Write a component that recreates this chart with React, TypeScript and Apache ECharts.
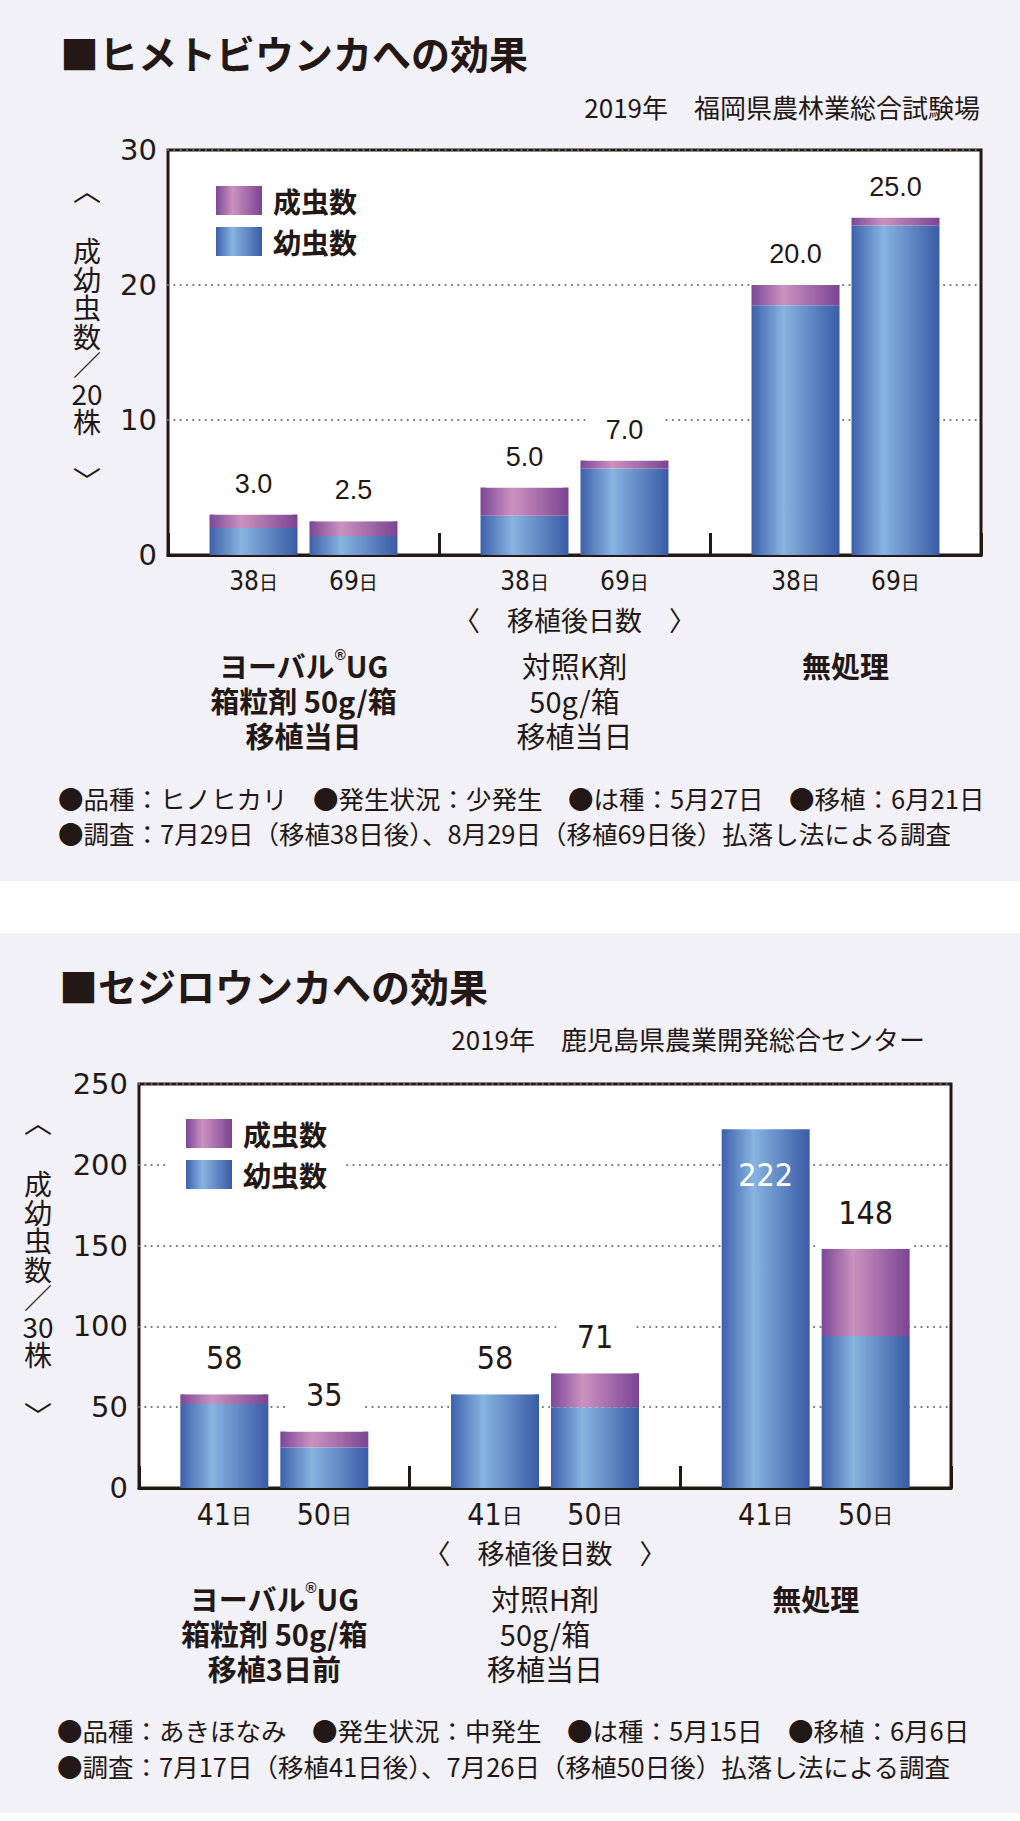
import React, { useEffect, useRef } from 'react';
import * as echarts from 'echarts';

// ---------- shared look ----------
const INK = '#231815';
const PANEL = '#f2f1f7';
const CJK = '"Noto Sans CJK JP", "Noto Sans CJK SC", sans-serif';
const TICKFONT = '"DejaVu Sans", sans-serif';
const ARIAL = '"Liberation Sans", Arial, sans-serif';
const NARROW = '"Liberation Sans Narrow", "Arial Narrow", "DejaVu Sans Condensed", "Liberation Sans", sans-serif';
const seriesNames = ['成虫数', '幼虫数'];
const xName = '〈　移植後日数　〉';

// ---------- chart 1: ヒメトビウンカ ----------
const title1 = '■ヒメトビウンカへの効果';
const source1 = '2019年　福岡県農林業総合試験場';
const yName1 = ['成', '幼', '虫', '数', '／', '20', '株'];
const groups1 = ['ヨーバル®UG\n箱粒剤 50g/箱\n移植当日', '対照K剤\n50g/箱\n移植当日', '無処理'];
const groupBold1 = [true, false, true];
const days1 = ['38', '69'];
const yMax1 = 30;
const yStep1 = 10;
const larvaEarly1 = [2.0, 2.9, 18.5];
const adultEarly1 = [1.0, 2.1, 1.5];
const larvaLate1 = [1.4, 6.4, 24.4];
const adultLate1 = [1.1, 0.6, 0.6];
const notes1 = [
  '●品種：ヒノヒカリ　●発生状況：少発生　●は種：5月27日　●移植：6月21日',
  '●調査：7月29日（移植38日後）、8月29日（移植69日後）払落し法による調査',
];

// ---------- chart 2: セジロウンカ ----------
const title2 = '■セジロウンカへの効果';
const source2 = '2019年　鹿児島県農業開発総合センター';
const yName2 = ['成', '幼', '虫', '数', '／', '30', '株'];
const groups2 = ['ヨーバル®UG\n箱粒剤 50g/箱\n移植3日前', '対照H剤\n50g/箱\n移植当日', '無処理'];
const groupBold2 = [true, false, true];
const days2 = ['41', '50'];
const yMax2 = 250;
const yStep2 = 50;
const larvaEarly2 = [52, 58, 222];
const adultEarly2 = [6, 0, 0];
const larvaLate2 = [25, 50, 94];
const adultLate2 = [10, 21, 54];
const notes2 = [
  '●品種：あきほなみ　●発生状況：中発生　●は種：5月15日　●移植：6月6日',
  '●調査：7月17日（移植41日後）、7月26日（移植50日後）払落し法による調査',
];

const blueGrad = () =>
  new echarts.graphic.LinearGradient(0, 0, 1, 0, [
    { offset: 0, color: '#3d60ab' },
    { offset: 0.36, color: '#87b4e0' },
    { offset: 1, color: '#3a5ba6' },
  ]);
const purpleGrad = () =>
  new echarts.graphic.LinearGradient(0, 0, 1, 0, [
    { offset: 0, color: '#7b4797' },
    { offset: 0.36, color: '#cb92bf' },
    { offset: 1, color: '#7a4493' },
  ]);

function groupLabel(text: string, bold: boolean) {
  const t = bold ? 'b' : 'r';
  const sup = bold ? 'sb' : 'sr';
  return text
    .split('\n')
    .map((line) =>
      line
        .split('®')
        .map((s) => (s ? `{${t}|${s}}` : ''))
        .join(`{${sup}|®}`)
    )
    .join('\n');
}

interface Panel {
  idx: number;
  grid: { left: number; top: number; width: number; height: number };
  yMax: number;
  yStep: number;
  groups: string[];
  groupBold: boolean[];
  days: string[];
  larvaEarly: number[];
  adultEarly: number[];
  larvaLate: number[];
  adultLate: number[];
  decimals: number;
  valFont: string;
  valSize: number;
  valLH: number;
  valPadBottom: number;
  daySize: number;
  dayLH: number;
  dayDist: number;
  hiSize: number;
  legendPos: { left: number; top: number };
  whiteInsideEarly: boolean[];
}

function buildPanel(p: Panel) {
  const totalsE = p.larvaEarly.map((v, i) => (v + p.adultEarly[i]).toFixed(p.decimals));
  const totalsL = p.larvaLate.map((v, i) => (v + p.adultLate[i]).toFixed(p.decimals));
  const stackE = `s${p.idx}e`;
  const stackL = `s${p.idx}l`;

  const dayLabel = (day: string) => ({
    show: true,
    position: 'bottom',
    distance: p.dayDist,
    formatter: () => `{n|${day}}{s|日}`,
    rich: {
      n: { fontSize: p.daySize, fontFamily: NARROW, color: INK, lineHeight: p.dayLH },
      s: { fontSize: p.hiSize, fontFamily: CJK, color: INK, lineHeight: p.dayLH },
    },
  });
  const totalLabel = (totals: string[]) => ({
    show: true,
    position: 'top',
    distance: 0,
    formatter: (q: any) => totals[q.dataIndex],
    fontSize: p.valSize,
    fontFamily: p.valFont,
    color: INK,
    lineHeight: p.valLH,
    backgroundColor: '#ffffff',
    padding: [2, 20, p.valPadBottom, 20],
  });
  const adultData = (vals: number[], inside: boolean[]) =>
    vals.map((v, i) =>
      inside[i]
        ? {
            value: v,
            label: {
              position: 'insideTop',
              distance: 30,
              color: '#ffffff',
              backgroundColor: 'transparent',
              padding: 0,
            },
          }
        : v
    );

  const common = {
    type: 'bar',
    xAxisIndex: p.idx,
    yAxisIndex: p.idx,
    barWidth: 88,
    barGap: '13.6%',
  };
  const series = [
    { ...common, name: seriesNames[1], stack: stackE, data: p.larvaEarly, itemStyle: { color: blueGrad() }, label: dayLabel(p.days[0]) },
    { ...common, name: seriesNames[0], stack: stackE, data: adultData(p.adultEarly, p.whiteInsideEarly), itemStyle: { color: purpleGrad() }, label: totalLabel(totalsE) },
    { ...common, name: seriesNames[1], stack: stackL, data: p.larvaLate, itemStyle: { color: blueGrad() }, label: dayLabel(p.days[1]) },
    { ...common, name: seriesNames[0], stack: stackL, data: p.adultLate, itemStyle: { color: purpleGrad() }, label: totalLabel(totalsL) },
  ];

  const grid = {
    ...p.grid,
    show: true,
    backgroundColor: '#ffffff',
    borderColor: INK,
    borderWidth: 3,
    containLabel: false,
  };

  const xAxis = {
    type: 'category',
    gridIndex: p.idx,
    data: p.groups,
    axisLine: { show: true, lineStyle: { color: INK, width: 3 } },
    axisTick: { show: true, inside: true, length: 22, lineStyle: { color: INK, width: 3 } },
    axisLabel: {
      interval: 0,
      margin: 92,
      formatter: (v: string, i: number) => groupLabel(v, p.groupBold[i]),
      rich: {
        b: { fontSize: 29, fontWeight: 'bold', fontFamily: CJK, color: INK, lineHeight: 35 },
        r: { fontSize: 29, fontWeight: 'normal', fontFamily: CJK, color: INK, lineHeight: 35 },
        sb: { fontSize: 15, fontWeight: 'bold', fontFamily: ARIAL, color: INK, lineHeight: 16, verticalAlign: 'top' },
        sr: { fontSize: 15, fontWeight: 'normal', fontFamily: ARIAL, color: INK, lineHeight: 16, verticalAlign: 'top' },
      },
    },
    name: xName,
    nameLocation: 'middle',
    nameGap: 51,
    nameMoveOverlap: false,
    nameTextStyle: { fontSize: 27, fontFamily: CJK, color: INK },
  };

  const yAxis = {
    type: 'value',
    gridIndex: p.idx,
    min: 0,
    max: p.yMax,
    interval: p.yStep,
    axisLine: { show: false },
    axisTick: { show: false },
    axisLabel: { fontSize: 29, fontFamily: TICKFONT, color: INK, margin: 11 },
    splitLine: {
      show: true,
      lineStyle: { color: '#707070', width: 2.2, type: [0.01, 6.3], cap: 'round' },
    },
  };

  const legend = {
    data: [seriesNames[0], seriesNames[1]],
    orient: 'vertical',
    left: p.legendPos.left,
    top: p.legendPos.top,
    icon: 'rect',
    itemWidth: 46,
    itemHeight: 29,
    itemGap: 12,
    padding: [10, 18],
    backgroundColor: '#ffffff',
    selectedMode: false,
    textStyle: { fontSize: 28, fontWeight: 'bold', fontFamily: CJK, color: INK, lineHeight: 29, padding: [0, 0, 0, 6] },
  };

  return { series, grid, xAxis, yAxis, legend };
}

function txt(text: string, x: number, y: number, size: number, opts: any = {}) {
  const align = opts.align || 'left';
  const valign = opts.valign || 'middle';
  return {
    type: 'text',
    x,
    y,
    silent: true,
    style: {
      text,
      fill: INK,
      fontSize: size,
      fontFamily: opts.family || CJK,
      fontWeight: opts.weight || 'normal',
      lineHeight: opts.lineHeight,
      align,
      verticalAlign: valign,
      textAlign: align,
      textVerticalAlign: valign,
    },
  };
}

function buildOption() {
  const p1 = buildPanel({
    idx: 0,
    grid: { left: 168, top: 150, width: 813, height: 405 },
    yMax: yMax1,
    yStep: yStep1,
    groups: groups1,
    groupBold: groupBold1,
    days: days1,
    larvaEarly: larvaEarly1,
    adultEarly: adultEarly1,
    larvaLate: larvaLate1,
    adultLate: adultLate1,
    decimals: 1,
    valFont: ARIAL,
    valSize: 27,
    valLH: 28,
    valPadBottom: 17,
    daySize: 26,
    dayLH: 26,
    dayDist: 13,
    hiSize: 19,
    legendPos: { left: 198, top: 176 },
    whiteInsideEarly: [false, false, false],
  });
  const p2 = buildPanel({
    idx: 1,
    grid: { left: 139, top: 1084, width: 812, height: 404 },
    yMax: yMax2,
    yStep: yStep2,
    groups: groups2,
    groupBold: groupBold2,
    days: days2,
    larvaEarly: larvaEarly2,
    adultEarly: adultEarly2,
    larvaLate: larvaLate2,
    adultLate: adultLate2,
    decimals: 0,
    valFont: NARROW,
    valSize: 32,
    valLH: 32,
    valPadBottom: 20,
    daySize: 30,
    dayLH: 30,
    dayDist: 11,
    hiSize: 21,
    legendPos: { left: 168, top: 1109 },
    whiteInsideEarly: [false, false, true],
  });

  const graphic = [
    { type: 'rect', z: -10, silent: true, shape: { x: 0, y: 0, width: 1020, height: 881 }, style: { fill: PANEL } },
    { type: 'rect', z: -10, silent: true, shape: { x: 0, y: 933, width: 1020, height: 880 }, style: { fill: PANEL } },
    txt(title1, 60, 52, 39, { weight: 'bold' }),
    txt(source1, 980, 106, 26, { align: 'right' }),
    txt('︿', 87, 189, 28, { align: 'center' }),
    txt(yName1.join('\n'), 87, 236, 28, { align: 'center', valign: 'top', lineHeight: 28.5 }),
    txt('﹀', 87, 480, 28, { align: 'center' }),
    txt(notes1[0], 58, 797, 25.5),
    txt(notes1[1], 58, 832, 25.5),
    txt(title2, 59, 985, 39, { weight: 'bold' }),
    txt(source2, 925, 1038, 26, { align: 'right' }),
    txt('︿', 38, 1121, 28, { align: 'center' }),
    txt(yName2.join('\n'), 38, 1169, 28, { align: 'center', valign: 'top', lineHeight: 28.5 }),
    txt('﹀', 38, 1415, 28, { align: 'center' }),
    txt(notes2[0], 57, 1729, 25.5),
    txt(notes2[1], 57, 1765, 25.5),
  ];

  return {
    animation: false,
    backgroundColor: '#ffffff',
    grid: [p1.grid, p2.grid],
    xAxis: [p1.xAxis, p2.xAxis],
    yAxis: [p1.yAxis, p2.yAxis],
    legend: [p1.legend, p2.legend],
    series: [...p1.series, ...p2.series],
    graphic,
  };
}

export default function App() {
  const ref = useRef<HTMLDivElement>(null);
  useEffect(() => {
    document.body.style.margin = '0';
    const chart = echarts.init(ref.current as HTMLDivElement, null, { renderer: 'svg' });
    chart.setOption(buildOption() as any);
    return () => chart.dispose();
  }, []);
  return (
    <div
      ref={ref}
      style={{ position: 'absolute', left: 0, top: 0, width: 1020, height: 1821 }}
    />
  );
}
